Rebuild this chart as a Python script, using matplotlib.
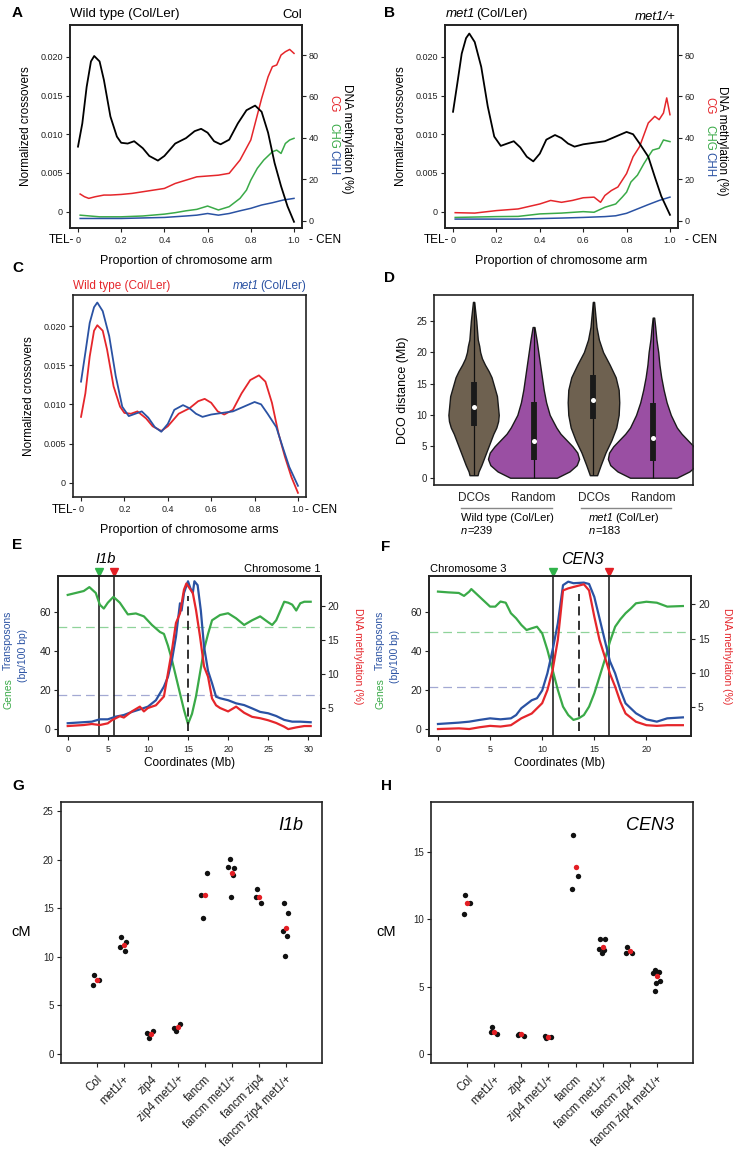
import numpy as np
import matplotlib
matplotlib.use('Agg')
import matplotlib.pyplot as plt

plt.rcParams['font.family'] = ['Liberation Sans', 'DejaVu Sans']

# ---- A / B / C : crossovers along chromosome arm ----
co_wt_x = [0, 0.02, 0.04, 0.06, 0.075, 0.1, 0.12, 0.15, 0.18, 0.2, 0.23, 0.26, 0.3, 0.33, 0.37, 0.4,
           0.45, 0.5, 0.54, 0.57, 0.6, 0.63, 0.66, 0.7, 0.74, 0.78, 0.82, 0.85, 0.88, 0.91, 0.94, 0.97, 1.0]
co_wt_y = [0.0084, 0.0114, 0.0161, 0.0194, 0.0201, 0.0194, 0.0170, 0.0123, 0.0097, 0.0089, 0.0088, 0.0091,
           0.0082, 0.0072, 0.0066, 0.0072, 0.0088, 0.0095, 0.0104, 0.0107, 0.0102, 0.0091, 0.0087, 0.0093,
           0.0114, 0.0131, 0.0137, 0.0129, 0.0102, 0.0063, 0.0033, 0.0007, -0.0013]
co_met1_x = [0, 0.02, 0.04, 0.06, 0.075, 0.1, 0.13, 0.16, 0.19, 0.22, 0.25, 0.28, 0.31, 0.34, 0.37, 0.4,
             0.43, 0.47, 0.5, 0.53, 0.56, 0.6, 0.65, 0.7, 0.75, 0.8, 0.83, 0.86, 0.9, 0.93, 0.96, 1.0]
co_met1_y = [0.0129, 0.0166, 0.0204, 0.0224, 0.0230, 0.0219, 0.0187, 0.0136, 0.0097, 0.0085, 0.0088, 0.0091,
             0.0083, 0.0071, 0.0065, 0.0075, 0.0093, 0.0099, 0.0095, 0.0088, 0.0084, 0.0087, 0.0089, 0.0091,
             0.0097, 0.0103, 0.0100, 0.0088, 0.0071, 0.0045, 0.0020, -0.0004]

cg_wt_x = [0.01, 0.03, 0.05, 0.08, 0.12, 0.15, 0.2, 0.25, 0.3, 0.35, 0.4, 0.45, 0.5, 0.55, 0.6, 0.65, 0.7,
           0.75, 0.8, 0.85, 0.88, 0.9, 0.92, 0.94, 0.96, 0.98, 1.0]
cg_wt_y = [12.9, 11.6, 10.8, 11.6, 12.4, 12.4, 12.7, 13.2, 14.0, 14.8, 15.6, 18.0, 19.6, 21.2, 21.6, 22.0,
           22.9, 29.3, 39.0, 59.0, 69.5, 74.4, 75.2, 80.0, 81.6, 82.7, 80.8]
chg_wt_x = [0.01, 0.1, 0.2, 0.3, 0.4, 0.45, 0.5, 0.55, 0.6, 0.65, 0.7, 0.75, 0.78, 0.8, 0.83, 0.86, 0.9,
            0.92, 0.94, 0.96, 0.98, 1.0]
chg_wt_y = [2.7, 1.9, 1.9, 2.3, 3.2, 3.9, 4.8, 5.5, 7.1, 5.2, 6.8, 10.8, 14.8, 19.6, 25.3, 29.3, 33.3,
            34.1, 32.5, 37.3, 39.0, 39.8]
chh_wt_x = [0.01, 0.2, 0.4, 0.5, 0.55, 0.6, 0.65, 0.7, 0.75, 0.8, 0.85, 0.9, 0.95, 1.0]
chh_wt_y = [1.1, 1.1, 1.6, 2.3, 2.7, 3.5, 2.7, 3.5, 4.8, 6.0, 7.6, 8.7, 10.0, 10.8]

cg_met1_x = [0.01, 0.1, 0.2, 0.3, 0.4, 0.45, 0.5, 0.55, 0.6, 0.65, 0.68, 0.7, 0.73, 0.76, 0.8, 0.83, 0.86,
             0.9, 0.93, 0.95, 0.97, 0.985, 1.0]
cg_met1_y = [3.9, 3.7, 4.9, 5.7, 8.1, 9.8, 8.9, 9.8, 11.1, 11.4, 8.9, 12.2, 14.6, 16.3, 22.8, 30.9, 35.8,
             47.2, 50.4, 48.8, 52.0, 59.3, 51.2]
chg_met1_x = [0.01, 0.2, 0.3, 0.4, 0.5, 0.6, 0.65, 0.7, 0.75, 0.78, 0.8, 0.82, 0.85, 0.88, 0.9, 0.92, 0.95,
              0.97, 1.0]
chg_met1_y = [1.6, 2.0, 2.1, 3.3, 3.7, 4.4, 4.1, 6.5, 8.1, 11.4, 13.8, 18.7, 22.0, 27.6, 30.9, 34.1, 35.0,
              39.0, 38.2]
chh_met1_x = [0.01, 0.3, 0.5, 0.6, 0.7, 0.75, 0.8, 0.85, 0.9, 0.95, 1.0]
chh_met1_y = [0.8, 0.8, 1.3, 1.6, 2.0, 2.4, 3.6, 5.7, 7.8, 9.8, 11.4]

# ---- D : DCO distance violins ----
violin_labels = ['DCOs', 'Random', 'DCOs', 'Random']
v1_y = [0.4, 1, 2, 3, 4, 5, 6, 7, 8, 9, 10, 11, 13, 15, 16, 17, 18, 19, 20, 21, 22, 25, 28]
v1_w = [0.067, 0.083, 0.13, 0.17, 0.21, 0.25, 0.29, 0.33, 0.38, 0.41, 0.42, 0.41, 0.39, 0.33, 0.3, 0.25,
        0.19, 0.14, 0.11, 0.094, 0.07, 0.045, 0.01]
v2_y = [0, 1, 2, 3, 4, 5, 6, 7, 8, 10, 12, 14, 16, 18, 20, 22, 24]
v2_w = [0.39, 0.6, 0.72, 0.76, 0.73, 0.65, 0.55, 0.45, 0.38, 0.27, 0.21, 0.17, 0.14, 0.11, 0.08, 0.05, 0.015]
v3_y = [0.4, 2, 4, 6, 8, 10, 12, 14, 16, 18, 20, 22, 24, 26, 28]
v3_w = [0.06, 0.12, 0.2, 0.3, 0.38, 0.42, 0.43, 0.42, 0.37, 0.27, 0.16, 0.09, 0.05, 0.03, 0.01]
v4_y = [0, 1, 2, 3, 4, 5, 6, 7, 8, 10, 12, 14, 16, 18, 20, 22, 24, 25.5]
v4_w = [0.39, 0.6, 0.72, 0.76, 0.74, 0.67, 0.57, 0.47, 0.39, 0.29, 0.22, 0.17, 0.13, 0.1, 0.08, 0.05,
        0.03, 0.012]
box_q1 = [8.3, 2.9, 9.3, 2.7]
box_med = [11.3, 5.9, 12.4, 6.4]
box_q3 = [15.2, 12.0, 16.4, 11.9]

# ---- E : chromosome 1 ----
e_gene_x = [0, 2, 2.7, 3.5, 4, 4.5, 5, 5.7, 6.5, 7.5, 8.5, 9.5, 10.5, 11.5, 12, 12.5, 13, 14, 14.5, 15,
            15.5, 16, 16.5, 17, 17.5, 18, 19, 20, 21, 22, 23, 24, 25, 25.5, 26, 27, 27.5, 28, 28.5, 29,
            29.5, 30.3]
e_gene_y = [69, 71, 73, 70, 64, 62, 65, 68, 65, 59, 59.5, 58, 53.6, 50, 49, 43, 35.6, 18.5, 10, 2.8, 8,
            17, 29, 41, 49, 56, 58.7, 59.6, 57, 53.6, 56, 58, 55, 53.6, 56, 65.5, 65, 64, 61, 64.7, 65.5,
            65.5]
e_te_x = [0, 3, 4, 5, 6, 7, 8, 9, 10, 11, 12, 12.5, 13, 13.5, 14, 14.2, 14.5, 15, 15.3, 15.6, 15.8, 16.2,
          16.6, 17, 17.5, 18, 18.5, 19, 20, 21, 22, 23, 24, 25, 26, 27, 28, 29, 30.3]
e_te_y = [3.2, 4, 5.2, 5.2, 6.6, 7.4, 9, 10.3, 11.7, 15, 22, 27, 35.6, 47.6, 64.7, 61, 70, 76, 72.4, 70,
          76, 74, 61, 42.5, 30, 23.7, 16.8, 16, 15, 13.4, 12.5, 10.8, 9, 8.3, 6.9, 4.9, 4, 4, 3.7]
e_me_x = [0, 2, 3, 4, 5, 5.5, 6.5, 7, 8, 9, 9.5, 10, 11, 12, 12.5, 13, 13.5, 14, 14.5, 14.8, 15.2, 15.6,
          16, 16.5, 17, 17.5, 18, 18.5, 19, 20, 21, 22, 23, 24, 25, 26, 27, 27.5, 28.5, 29.5, 30.3]
e_me_y = [2.35, 2.5, 2.65, 2.5, 2.75, 3.2, 3.8, 3.6, 4.5, 5.2, 4.5, 5, 5.4, 6.7, 10.1, 13.5, 17.5, 18.9,
          22.4, 23.3, 22.6, 21.9, 19.4, 15.5, 11.1, 9.6, 6.4, 5.4, 5, 4.5, 5.2, 4.3, 3.7, 3.5, 3.2, 2.8,
          2.25, 1.9, 2.15, 2.35, 2.35]
e_markers = [3.9, 5.8]
e_cen = 15.0
e_gene_mean, e_te_mean = 52.4, 17.5

# ---- F : chromosome 3 ----
f_gene_x = [0, 1, 2, 2.5, 3, 3.2, 4, 5, 5.5, 6, 6.5, 7, 7.5, 8, 8.5, 9, 9.5, 10, 10.5, 11, 11.5, 12, 12.5,
            13, 13.5, 14, 14.5, 15, 15.5, 16, 16.5, 17, 17.5, 18, 18.5, 19, 20, 21, 21.5, 22, 23.5]
f_gene_y = [70.7, 70.3, 70, 68.5, 70.7, 72, 68, 63, 63, 65.6, 65, 59.6, 57, 53.6, 51, 51.9, 52.7, 49.3,
            40.8, 30.5, 20.3, 11.7, 7.4, 4.9, 5.7, 7.4, 11.7, 18.5, 27, 35.6, 45, 52.7, 56.5, 59.6, 62,
            64.7, 65.5, 65, 64, 63, 63.3]
f_te_x = [0, 2, 3, 4, 5, 6, 7, 7.5, 8, 9, 9.5, 10, 10.5, 11, 11.5, 12, 12.5, 13, 14, 14.5, 15, 15.5, 16,
          16.5, 17, 17.5, 18, 19, 20, 21, 22, 23.5]
f_te_y = [2.8, 3.5, 4, 4.9, 5.7, 5.2, 5.7, 7.4, 10.9, 15, 16, 20, 28.8, 40.8, 54.4, 74, 75.8, 75, 75.3,
          74.6, 68, 57, 45.9, 35, 28.8, 20.3, 13.4, 8.3, 5.2, 4, 5.7, 6.2]
f_me_x = [0, 2, 3, 4, 5, 6, 7, 7.5, 8, 9, 10, 10.5, 11, 11.5, 12, 12.5, 13, 14, 14.5, 15, 15.5, 16, 16.5,
          17, 17.5, 18, 19, 20, 21, 22, 23.5]
f_me_y = [1.84, 1.94, 1.84, 2.1, 2.3, 2.2, 2.4, 2.9, 3.4, 4.1, 5.6, 7.5, 10.4, 14.8, 22, 22.3, 22.5, 22.9,
          22, 18.2, 14.8, 12.4, 9.9, 8, 5.8, 4.1, 2.9, 2.4, 2.3, 2.4, 2.4]
f_markers = [11.04, 16.45]
f_cen = 13.53
f_gene_mean, f_te_mean = 50.2, 21.8

# ---- G / H : genetic distance ----
genotypes = ['Col', 'met1/+', 'zip4', 'zip4 met1/+', 'fancm', 'fancm met1/+', 'fancm zip4',
             'fancm zip4 met1/+']
g_reps = [[8.1, 7.6, 7.1], [12.0, 11.5, 11.0, 10.6], [1.6, 2.4, 2.2], [2.4, 3.1, 2.7],
          [14.0, 18.6, 16.4], [20.1, 19.1, 19.2, 18.4, 16.2], [17.0, 15.5, 16.2],
          [15.5, 14.5, 12.7, 12.1, 10.1]]
g_mean = [7.6, 11.2, 2.1, 2.8, 16.4, 18.6, 16.2, 13.0]
h_reps = [[11.8, 11.2, 10.4], [2.0, 1.5, 1.6], [1.5, 1.35, 1.4], [1.2, 1.25, 1.3],
          [16.2, 13.2, 12.2], [8.5, 8.5, 7.8, 7.7, 7.5], [7.9, 7.5, 7.5],
          [6.2, 6.1, 6.0, 6.1, 5.3, 5.4, 4.7]]
h_mean = [11.2, 1.65, 1.5, 1.25, 13.9, 7.95, 7.65, 5.75]

RED = '#e5262b'
GREEN = '#3aaa48'
BLUE = '#2a52a3'

W, H = 734, 1151
fig = plt.figure(figsize=(W / 100, H / 100), dpi=100)
renderer = fig.canvas.get_renderer()


def add_ax(l, t, r, b):
    return fig.add_axes([l / W, 1 - b / H, (r - l) / W, (b - t) / H])


def ftext(x, y, s, **kw):
    kw.setdefault('va', 'center')
    return fig.text(x / W, 1 - y / H, s, **kw)


def rich(x, y, parts, ha='left', gap=1, **kw):
    # words in different styles laid side by side, separated by a small gap
    texts, widths = [], []
    for s, st in parts:
        t = fig.text(0, 1 - y / H, s, style=st, va='center', ha='left', **kw)
        texts.append(t)
        widths.append(t.get_window_extent(renderer).width)
    total = sum(widths) + gap * (len(parts) - 1)
    start = x - total if ha == 'right' else x
    for t, w in zip(texts, widths):
        t.set_x(start / W)
        start += w + gap


def style(ax, size=7):
    for sp in ax.spines.values():
        sp.set_linewidth(1.2)
        sp.set_color('#222222')
    ax.tick_params(direction='out', length=3, width=0.8, labelsize=size, colors='#222222', pad=2)


co_ticks = [0, 0.005, 0.01, 0.015, 0.02]
co_ticklabels = ['0', '0.005', '0.010', '0.015', '0.020']


def arm_panel(l, r, co_x, co_y, meth):
    ax = add_ax(l, 25, r, 228)
    ax2 = ax.twinx()
    for (mx, my), c in zip(meth, [RED, GREEN, BLUE]):
        ax2.plot(mx, my, color=c, lw=1.1)
    ax.plot(co_x, co_y, color='black', lw=1.3, zorder=5)
    ax.set_zorder(ax2.get_zorder() + 1)
    ax.patch.set_visible(False)
    ax.set_xlim(-0.037, 1.037)
    ax.set_ylim(-0.0021, 0.0241)
    ax2.set_ylim(-3.5, 94.5)
    ax.set_xticks([0, 0.2, 0.4, 0.6, 0.8, 1.0])
    ax.set_xticklabels(['0', '0.2', '0.4', '0.6', '0.8', '1.0'])
    ax.set_yticks(co_ticks)
    ax.set_yticklabels(co_ticklabels)
    ax2.set_yticks([0, 20, 40, 60, 80])
    style(ax, 6.5)
    style(ax2, 6.5)
    ax.tick_params(axis='x', pad=3)
    ax.set_ylabel('Normalized crossovers', fontsize=8.5, labelpad=6)
    ax.set_xlabel('Proportion of chromosome arm', fontsize=9, labelpad=7)
    return ax


axA = arm_panel(70, 302, co_wt_x, co_wt_y,
                [(cg_wt_x, cg_wt_y), (chg_wt_x, chg_wt_y), (chh_wt_x, chh_wt_y)])
axB = arm_panel(445, 678, co_met1_x, co_met1_y,
                [(cg_met1_x, cg_met1_y), (chg_met1_x, chg_met1_y), (chh_met1_x, chh_met1_y)])

ftext(12, 13, 'A', fontsize=11, fontweight='bold')
ftext(70, 14, 'Wild type (Col/Ler)', fontsize=9.5)
ftext(302, 15, 'Col', fontsize=9.5, ha='right')
ftext(384, 13, 'B', fontsize=11, fontweight='bold')
rich(446, 14, [('met1', 'italic'), ('(Col/Ler)', 'normal')], fontsize=9.5)
ftext(676, 17, 'met1/+', fontsize=9.5, ha='right', style='italic')

for x0, x1 in [(74, 302), (449, 678)]:
    ftext(x0, 240, 'TEL-', fontsize=8.5, ha='right')
    ftext(x1 + 7, 240, '- CEN', fontsize=8.5, ha='left')

for xl, xm, yo in [(347, 333, 0), (722, 709, 2)]:
    ftext(xl, 139 + yo, 'DNA methylation (%)', fontsize=8.5, rotation=-90, ha='center')
    ftext(xm, 104 + yo, 'CG', fontsize=8.3, rotation=-90, ha='center', color=RED)
    ftext(xm, 136 + yo, 'CHG', fontsize=8.3, rotation=-90, ha='center', color=GREEN)
    ftext(xm, 163 + yo, 'CHH', fontsize=8.3, rotation=-90, ha='center', color=BLUE)

# ---- C ----
axC = add_ax(73, 295, 306, 497)
axC.plot(co_wt_x, co_wt_y, color=RED, lw=1.3)
axC.plot(co_met1_x, co_met1_y, color=BLUE, lw=1.3)
axC.set_xlim(-0.037, 1.037)
axC.set_ylim(-0.00183, 0.02396)
axC.set_xticks([0, 0.2, 0.4, 0.6, 0.8, 1.0])
axC.set_xticklabels(['0', '0.2', '0.4', '0.6', '0.8', '1.0'])
axC.set_yticks(co_ticks)
axC.set_yticklabels(co_ticklabels)
style(axC, 6.5)
axC.tick_params(axis='x', pad=3)
axC.set_ylabel('Normalized crossovers', fontsize=8.5, labelpad=6)
axC.set_xlabel('Proportion of chromosome arms', fontsize=9, labelpad=7)
ftext(12, 268, 'C', fontsize=11, fontweight='bold')
ftext(73, 286, 'Wild type (Col/Ler)', fontsize=8.5, color=RED)
rich(306, 286, [('met1', 'italic'), ('(Col/Ler)', 'normal')], ha='right', fontsize=8.5, color=BLUE)
ftext(77, 510, 'TEL-', fontsize=8.5, ha='right')
ftext(305, 510, '- CEN', fontsize=8.5, ha='left')

# ---- D ----
axD = add_ax(434, 295, 693, 485)
profiles = [(v1_y, v1_w), (v2_y, v2_w), (v3_y, v3_w), (v4_y, v4_w)]
vcols = ['#6e6150', '#9a4fa3', '#6e6150', '#9a4fa3']
for i, ((yy, ww), c) in enumerate(zip(profiles, vcols)):
    pos = i + 1
    yy = np.array(yy)
    ww = np.array(ww)
    axD.fill_betweenx(yy, pos - ww, pos + ww, facecolor=c, edgecolor='#1a1a1a', lw=1.0)
    axD.vlines(pos, yy.min(), yy.max(), color='#111111', lw=0.9)
    axD.vlines(pos, box_q1[i], box_q3[i], color='#1a1a1a', lw=4.2)
    axD.plot(pos, box_med[i], 'o', color='white', ms=3.6, mec='none', zorder=5)
axD.set_xlim(0.34, 4.66)
axD.set_ylim(-1.16, 29.1)
axD.set_yticks([0, 5, 10, 15, 20, 25])
axD.set_xticks([1, 2, 3, 4])
axD.set_xticklabels(violin_labels, fontsize=8.5)
style(axD, 7)
axD.tick_params(axis='x', length=0, labelsize=8.5, pad=5)
axD.set_ylabel('DCO distance (Mb)', fontsize=9, labelpad=5)
tr = axD.get_xaxis_transform()
axD.plot([0.79, 2.3], [-0.121, -0.121], color='#888888', lw=1, transform=tr, clip_on=False)
axD.plot([2.79, 4.3], [-0.121, -0.121], color='#888888', lw=1, transform=tr, clip_on=False)
ftext(384, 278, 'D', fontsize=11, fontweight='bold')
ftext(461, 518, 'Wild type (Col/Ler)', fontsize=8)
rich(461, 531, [('n', 'italic'), ('=239', 'normal')], gap=0, fontsize=8)
rich(589, 518, [('met1', 'italic'), ('(Col/Ler)', 'normal')], gap=1, fontsize=8)
rich(589, 531, [('n', 'italic'), ('=183', 'normal')], gap=0, fontsize=8)


# ---- E / F ----
def chrom_panel(l, r, xlim, r_ylim, gx, gy, tx, ty, mx, my, markers, cen, gmean, tmean, xticks):
    ax = add_ax(l, 576, r, 735.7)
    ax2 = ax.twinx()
    ax.axhline(gmean, color='#8fd39a', lw=0.9, dashes=(7, 4))
    ax.axhline(tmean, color='#a3a9d3', lw=0.9, dashes=(7, 4))
    for m in markers:
        ax.axvline(m, color='#111111', lw=1.1)
    ax.plot(gx, gy, color=GREEN, lw=1.6)
    ax.plot(tx, ty, color=BLUE, lw=1.6)
    ax2.plot(mx, my, color=RED, lw=1.6)
    ax2.plot([cen, cen], [1.6, 21.5], color='#222222', lw=1.3, dashes=(5, 3))
    ax.set_xlim(*xlim)
    ax.set_ylim(-3.2, 78.7)
    ax2.set_ylim(*r_ylim)
    ax.set_xticks(xticks)
    ax.set_yticks([0, 20, 40, 60])
    ax2.set_yticks([5, 10, 15, 20])
    style(ax, 6.5)
    style(ax2, 6.5)
    ax.tick_params(axis='y', labelsize=7.5)
    ax2.tick_params(axis='y', labelsize=7.5)
    ax.tick_params(axis='x', pad=4)
    ax.set_xlabel('Coordinates (Mb)', fontsize=8.5, labelpad=2)
    trx = ax.get_xaxis_transform()
    ax.plot([markers[0]], [1.028], marker='v', color='#2fb34a', ms=5.5, transform=trx, clip_on=False)
    ax.plot([markers[1]], [1.028], marker='v', color='#e31e24', ms=5.5, transform=trx, clip_on=False)
    return ax


axE = chrom_panel(57.7, 320.7, (-1.25, 31.55), (0.93, 24.4), e_gene_x, e_gene_y, e_te_x, e_te_y,
                  e_me_x, e_me_y, e_markers, e_cen, e_gene_mean, e_te_mean, [0, 5, 10, 15, 20, 25, 30])
axF = chrom_panel(428.7, 691, (-0.89, 24.28), (0.87, 24.1), f_gene_x, f_gene_y, f_te_x, f_te_y,
                  f_me_x, f_me_y, f_markers, f_cen, f_gene_mean, f_te_mean, [0, 5, 10, 15, 20])

ftext(12, 545, 'E', fontsize=11, fontweight='bold')
ftext(106, 559, 'I1b', fontsize=10.5, style='italic', ha='center')
ftext(320, 569, 'Chromosome 1', fontsize=8, ha='right')
ftext(8, 694, 'Genes', fontsize=7.5, rotation=90, ha='center', color=GREEN)
ftext(8, 640, 'Transposons', fontsize=7.5, rotation=90, ha='center', color=BLUE)
ftext(23, 655, '(bp/100 bp)', fontsize=7.5, rotation=90, ha='center', color=BLUE)
ftext(358, 656, 'DNA methylation (%)', fontsize=7.5, rotation=-90, ha='center', color=RED)

ftext(381, 547, 'F', fontsize=11, fontweight='bold')
ftext(582, 560, 'CEN3', fontsize=11.5, style='italic', ha='center')
ftext(430, 569, 'Chromosome 3', fontsize=8, ha='left')
ftext(380, 694, 'Genes', fontsize=7.5, rotation=90, ha='center', color=GREEN)
ftext(380, 640, 'Transposons', fontsize=7.5, rotation=90, ha='center', color=BLUE)
ftext(395, 656, '(bp/100 bp)', fontsize=7.5, rotation=90, ha='center', color=BLUE)
ftext(727, 656, 'DNA methylation (%)', fontsize=7.5, rotation=-90, ha='center', color=RED)

# ---- G / H ----
jit = [-0.08, 0.1, -0.12, 0.06, -0.02, 0.12, -0.06]


def cm_panel(l, r, reps, means, ylim, yticks, name):
    ax = add_ax(l, 802.3, r, 1063.3)
    for i, vals in enumerate(reps):
        xs = [i + 1 + jit[k] for k in range(len(vals))]
        ax.scatter(xs, vals, s=15, color='#111111', zorder=3, linewidths=0)
    ax.scatter(np.arange(1, len(means) + 1), means, s=15, color='#e31e24', zorder=4, linewidths=0)
    ax.set_xlim(-0.33, 9.33)
    ax.set_ylim(*ylim)
    ax.set_yticks(yticks)
    ax.set_xticks(range(1, len(genotypes) + 1))
    ax.set_xticklabels(genotypes, rotation=45, ha='right', rotation_mode='anchor')
    style(ax, 7)
    ax.tick_params(axis='x', labelsize=8.3, pad=4)
    ax.text(0.93, 0.91, name, transform=ax.transAxes, fontsize=13, style='italic', ha='right',
            va='center')
    return ax


axG = cm_panel(60.7, 321.7, g_reps, g_mean, (-0.96, 25.9), [0, 5, 10, 15, 20, 25], 'I1b')
axH = cm_panel(431.3, 692.7, h_reps, h_mean, (-0.69, 18.66), [0, 5, 10, 15], 'CEN3')
ftext(12, 786, 'G', fontsize=11, fontweight='bold')
ftext(381, 786, 'H', fontsize=11, fontweight='bold')
ftext(21, 932, 'cM', fontsize=10.5, ha='center')
ftext(386, 932, 'cM', fontsize=10.5, ha='center')

fig.savefig('out.png', dpi=100)
